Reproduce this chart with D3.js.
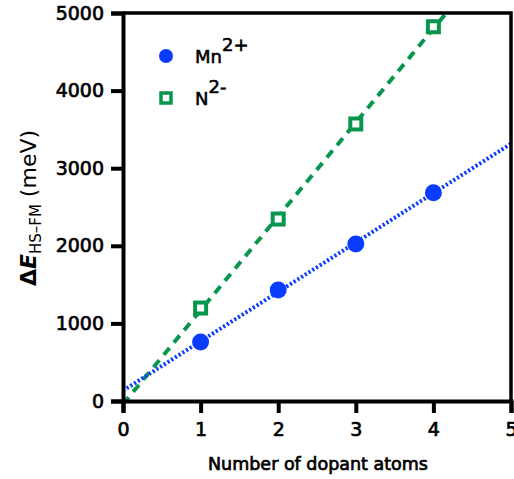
<!DOCTYPE html>
<html><head><meta charset="utf-8">
<script src="https://cdn.jsdelivr.net/npm/d3@7"></script>
<style>body{margin:0;background:#fff;} text{font-family:"DejaVu Sans",sans-serif;}</style>
</head><body>
<svg id="chart" width="514" height="479"></svg>
<script>
const dopantCounts = [1, 2, 3, 4];
const mnValues = [760, 1430, 2023, 2684];
const nValues = [1198, 2345, 3570, 4823];
const xTicks = [0, 1, 2, 3, 4, 5];
const yTicks = [0, 1000, 2000, 3000, 4000, 5000];
const seriesNames = ["Mn", "N"];
const seriesCharges = ["2+", "2-"];
const blue = "#0a3cff", green = "#08964f";

const svg = d3.select("#chart");
const m = {l: 123, r: 3, t: 13, b: 78};
const W = 514, H = 479;
const x = d3.scaleLinear().domain([0, 5]).range([m.l, W - m.r]);
const y = d3.scaleLinear().domain([0, 5000]).range([H - m.b, m.t]);

function fit(xs, ys) {
  const mx = d3.mean(xs), my = d3.mean(ys);
  const s = d3.sum(xs, (v, i) => (v - mx) * (ys[i] - my)) / d3.sum(xs, v => (v - mx) ** 2);
  return {s, b: my - s * mx};
}

svg.append("clipPath").attr("id", "clip").append("rect")
  .attr("x", m.l).attr("y", m.t).attr("width", W - m.r - m.l).attr("height", H - m.b - m.t);

const g = svg.append("g").attr("clip-path", "url(#clip)");
const fMn = fit(dopantCounts, mnValues), fN = fit(dopantCounts, nValues);
const line = d3.line().x(d => x(d[0])).y(d => y(d[1]));
g.append("path").datum([[0, fN.b], [5, fN.b + 5 * fN.s]]).attr("d", line)
  .attr("stroke", green).attr("stroke-width", 4).attr("fill", "none").attr("stroke-dasharray", "9,7");
g.append("path").datum([[0, fMn.b], [5, fMn.b + 5 * fMn.s]]).attr("d", line)
  .attr("stroke", blue).attr("stroke-width", 4).attr("fill", "none").attr("stroke-dasharray", "2.2,2.2");

// frame
svg.append("path").attr("d", `M${m.l},${m.t}H${W - m.r}V${H - m.b}`).attr("stroke", "#000").attr("stroke-width", 3.5).attr("fill", "none");

const xAxis = svg.append("g").attr("transform", `translate(0,${H - m.b})`)
  .call(d3.axisBottom(x).tickValues(xTicks).tickSize(12).tickPadding(8).tickFormat(d3.format("d")));
const yAxis = svg.append("g").attr("transform", `translate(${m.l},0)`)
  .call(d3.axisLeft(y).tickValues(yTicks).tickSize(12).tickPadding(7).tickFormat(d3.format("d")));
[xAxis, yAxis].forEach(a => {
  a.select(".domain").attr("stroke-width", 4).attr("stroke", "#000");
  a.selectAll(".tick line").attr("stroke-width", 4).attr("stroke", "#000");
  a.selectAll(".tick text").attr("font-size", 19).attr("fill", "#000").attr("font-family", "DejaVu Sans")
    .attr("stroke", "#000").attr("stroke-width", 0.7);
});
xAxis.selectAll(".tick text").attr("dy", "0.8em");

// markers
svg.selectAll(".n").data(dopantCounts).join("rect").attr("class", "n")
  .attr("x", d => x(d) - 5.5).attr("y", (d, i) => y(nValues[i]) - 5.5)
  .attr("width", 11).attr("height", 11).attr("fill", "#fff").attr("stroke", green).attr("stroke-width", 4);
svg.selectAll(".mn").data(dopantCounts).join("circle").attr("class", "mn")
  .attr("cx", d => x(d)).attr("cy", (d, i) => y(mnValues[i])).attr("r", 8.5).attr("fill", blue);

// legend
const lg = svg.append("g");
lg.append("circle").attr("cx", 166).attr("cy", 56).attr("r", 7).attr("fill", blue);
lg.append("rect").attr("x", 161).attr("y", 93).attr("width", 10).attr("height", 10)
  .attr("fill", "#fff").attr("stroke", green).attr("stroke-width", 3.5);
[63, 105].forEach((yy, i) => {
  const t = lg.append("text").attr("x", 195).attr("y", yy).attr("font-size", 18).attr("fill", "#000")
    .attr("stroke", "#000").attr("stroke-width", 0.6);
  t.append("tspan").text(seriesNames[i]);
  t.append("tspan").attr("dy", -12).attr("font-size", 18).text(seriesCharges[i]);
});

// axis titles
svg.append("text").attr("x", 318).attr("y", 470).attr("text-anchor", "middle").attr("font-size", 17.5)
  .attr("fill", "#000").attr("stroke", "#000").attr("stroke-width", 0.7).text("Number of dopant atoms");
const yt = svg.append("text").attr("transform", "translate(36,208) rotate(-90)").attr("text-anchor", "middle")
  .attr("font-size", 22).attr("fill", "#000");
yt.append("tspan").attr("font-weight", "bold").text("Δ");
yt.append("tspan").attr("font-weight", "bold").attr("font-style", "italic").text("E");
yt.append("tspan").attr("font-size", 15).attr("dy", 5).text("HS–FM");
yt.append("tspan").attr("dy", -5).text(" (meV)");
</script>
</body></html>
